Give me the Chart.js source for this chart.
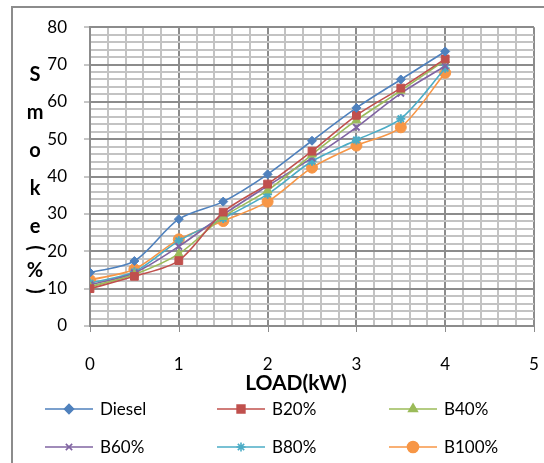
<!DOCTYPE html>
<html><head><meta charset="utf-8">
<script src="https://cdn.jsdelivr.net/npm/chart.js@4/dist/chart.umd.min.js"></script>
<style>html,body{margin:0;padding:0;background:#fff;}#wrap{width:544px;height:463px;position:relative;}</style>
</head><body><div id="wrap"><canvas id="c" width="544" height="463"></canvas></div>
<script>
const loads = [0, 0.5, 1, 1.5, 2, 2.5, 3, 3.5, 4];
const diesel = [14.3, 17.4, 28.6, 33.3, 40.6, 49.6, 58.4, 66.0, 73.5];
const b20    = [10.0, 13.3, 17.5, 30.5, 38.0, 46.8, 56.4, 63.7, 71.5];
const b40    = [10.5, 13.8, 19.3, 29.2, 36.3, 45.9, 55.1, 63.0, 71.2];
const b60    = [11.0, 14.2, 21.3, 29.8, 37.5, 45.0, 53.2, 62.3, 69.6];
const b80    = [11.5, 14.5, 22.8, 28.8, 35.3, 44.1, 49.8, 55.5, 69.0];
const b100   = [12.3, 15.2, 23.2, 28.1, 33.3, 42.4, 48.3, 53.2, 67.8];
const seriesNames = ['Diesel', 'B20%', 'B40%', 'B60%', 'B80%', 'B100%'];
const xTickLabels = ['0', '1', '2', '3', '4', '5'];
const yTickLabels = ['0', '10', '20', '30', '40', '50', '60', '70', '80'];
const xTitle = 'LOAD(kW)';
const yTitle = 'Smoke(%)';

const colors = ['#4F81BD', '#C0504D', '#9BBB59', '#8064A2', '#4BACC6', '#F79646'];
const styles = ['rectRot', 'rect', 'triangle', 'crossRot', 'star', 'circle'];
const radii = [4.5, 5.5, 5, 4.5, 4.5, 5.5];
const allValues = [diesel, b20, b40, b60, b80, b100];

const FONT = 'Lato, "Open Sans", sans-serif';
const MAJOR = '#8c8c8c', MINOR = '#c3c3c3';

const datasets = allValues.map((vals, i) => ({
  label: seriesNames[i],
  data: loads.map((x, j) => ({x: x, y: vals[j]})),
  borderColor: colors[i],
  backgroundColor: colors[i],
  pointStyle: styles[i],
  pointRadius: radii[i],
  pointBorderColor: colors[i],
  pointBackgroundColor: colors[i],
  pointBorderWidth: (styles[i] === 'crossRot' || styles[i] === 'star') ? 2 : 1,
  borderWidth: 1.6,
  tension: 0.3,
  fill: false
}));

function isInt(v, step) { return Math.abs(v / step - Math.round(v / step)) < 1e-6; }

const decor = {
  id: 'decor',
  afterDraw(chart) {
    const ctx = chart.ctx;
    const xs = chart.scales.x, ca = chart.chartArea;
    ctx.save();
    // outer frame
    ctx.strokeStyle = '#8c8c8c';
    ctx.lineWidth = 2;
    ctx.beginPath();
    ctx.moveTo(12, 463); ctx.lineTo(12, 7); ctx.lineTo(544, 7);
    ctx.stroke();
    // x tick marks at integers
    ctx.lineWidth = 1;
    ctx.strokeStyle = MAJOR;
    xTickLabels.forEach((l, k) => {
      const px = Math.round(xs.getPixelForValue(k)) + 0.5;
      ctx.beginPath(); ctx.moveTo(px, ca.bottom); ctx.lineTo(px, ca.bottom + 6); ctx.stroke();
    });
    // y title stacked
    ctx.fillStyle = '#000';
    ctx.font = 'bold 20px ' + FONT;
    ctx.textAlign = 'center';
    ctx.textBaseline = 'middle';
    const ys = [75, 113, 151, 189, 227, 248, 271, 291];
    const chars = yTitle.split('');
    chars.forEach((ch, k) => {
      const y = ys[k];
      if (ch === '(' || ch === ')') {
        ctx.save();
        ctx.translate(35, y);
        ctx.rotate(Math.PI / 2);
        ctx.fillText(ch, 0, 0);
        ctx.restore();
      } else {
        ctx.fillText(ch, 35, y);
      }
    });
    // x title
    ctx.font = 'bold 21px ' + FONT;
    ctx.fillText(xTitle, 296, 383);
    // legend
    const cols = [45, 217, 389];
    const rows = [409, 447];
    ctx.font = '17px ' + FONT;
    ctx.textAlign = 'left';
    seriesNames.forEach((name, i) => {
      const x0 = cols[i % 3], y0 = rows[Math.floor(i / 3)];
      ctx.strokeStyle = colors[i];
      ctx.lineWidth = 1.6;
      ctx.beginPath(); ctx.moveTo(x0, y0); ctx.lineTo(x0 + 48, y0); ctx.stroke();
      ctx.fillStyle = colors[i];
      ctx.strokeStyle = colors[i];
      Chart.helpers.drawPoint(ctx, {
        pointStyle: styles[i], radius: radii[i], rotation: 0,
        borderWidth: (styles[i] === 'crossRot' || styles[i] === 'star') ? 2 : 1
      }, x0 + 24, y0);
      ctx.fillStyle = '#000';
      ctx.fillText(name, x0 + 55, y0 + 1);
    });
    ctx.restore();
  }
};

new Chart(document.getElementById('c'), {
  type: 'line',
  data: { datasets },
  options: {
    responsive: false,
    animation: false,
    devicePixelRatio: 1,
    layout: { padding: { top: 22, right: 10, left: 0, bottom: 0 } },
    plugins: { legend: { display: false }, tooltip: { enabled: false } },
    scales: {
      x: {
        type: 'linear', min: 0, max: 5,
        afterFit: s => { s.height = 137; },
        afterBuildTicks: s => {
          const t = [];
          for (let k = 0; k <= 25; k++) t.push({ value: Math.round(k * 2) / 10 });
          s.ticks = t;
        },
        ticks: {
          autoSkip: false, maxRotation: 0, padding: 0,
          color: '#000', font: { family: FONT, size: 17 },
          callback: v => isInt(v, 1) ? xTickLabels[Math.round(v)] : ''
        },
        grid: {
          color: c => (c.tick && isInt(c.tick.value, 1)) ? MAJOR : MINOR,
          lineWidth: 2,
          tickColor: 'rgba(0,0,0,0)',
          tickLength: 28, tickWidth: 1
        },
        border: { display: true, color: MAJOR, width: 2 }
      },
      y: {
        min: 0, max: 80,
        afterFit: s => { s.width = 90; },
        afterBuildTicks: s => {
          const t = [];
          for (let k = 0; k <= 40; k++) t.push({ value: k * 2 });
          s.ticks = t;
        },
        ticks: {
          autoSkip: false, padding: 17,
          color: '#000', font: { family: FONT, size: 17 },
          callback: v => isInt(v, 10) ? yTickLabels[Math.round(v / 10)] : ''
        },
        grid: {
          color: c => (c.tick && isInt(c.tick.value, 10)) ? MAJOR : MINOR,
          lineWidth: 2,
          tickColor: c => (c.tick && isInt(c.tick.value, 10)) ? MAJOR : 'rgba(0,0,0,0)',
          tickLength: 6, tickWidth: 1
        },
        border: { display: true, color: MAJOR, width: 2 }
      }
    }
  },
  plugins: [decor]
});
</script></body></html>
